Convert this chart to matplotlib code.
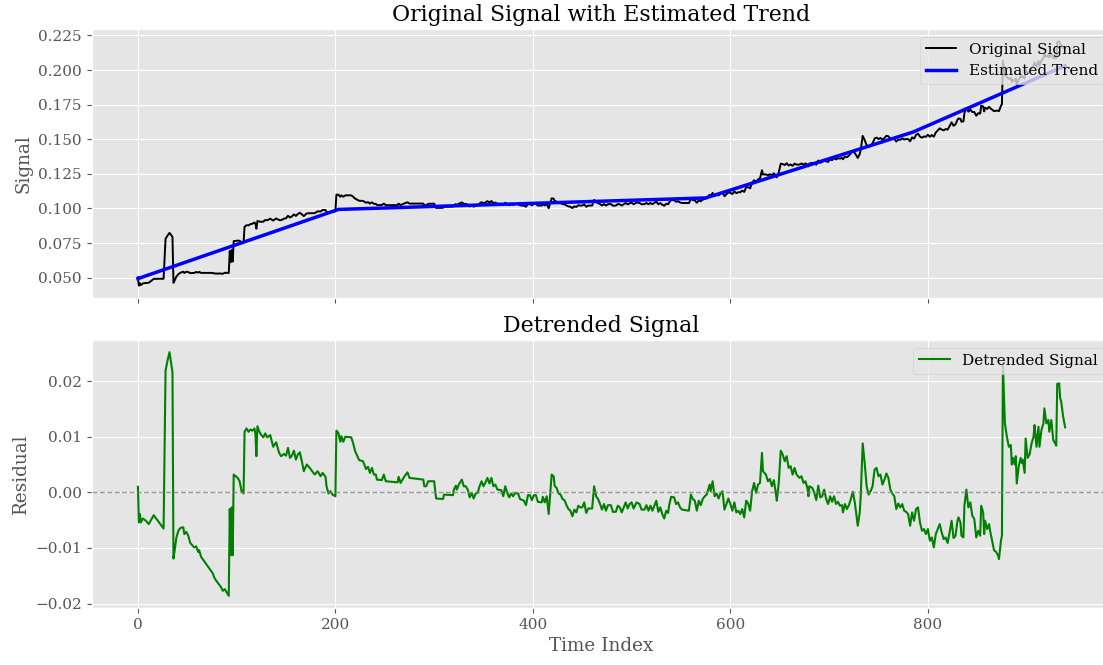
import numpy as np
import matplotlib
matplotlib.use("Agg")
import matplotlib.pyplot as plt

# Piecewise-linear trend knots (time index, level)
trend_knot_idx = [0, 203, 575, 785, 939]
trend_knot_val = [0.0493, 0.0993, 0.1076, 0.1552, 0.2031]

# Residual (signal minus trend) samples
resid_idx = [
    0, 1, 2, 3, 5, 8, 11, 16, 26, 28, 30, 32, 33, 35, 36, 37, 39, 41, 42, 44,
    46, 47, 49, 51, 53, 57, 59, 61, 62, 64, 76, 77, 79, 84, 86, 88, 92, 93, 94, 95,
    96, 97, 101, 103, 105, 107, 108, 110, 112, 114, 116, 118, 119, 120, 121, 123, 125, 127,
    129, 131, 134, 137, 140, 143, 145, 148, 150, 152, 154, 156, 158, 160, 162, 164, 166, 168,
    171, 174, 179, 182, 185, 187, 190, 191, 193, 195, 197, 200, 201, 203, 205, 206, 208, 210,
    216, 218, 220, 224, 228, 231, 233, 235, 237, 239, 241, 242, 247, 249, 251, 263, 264, 266,
    268, 270, 273, 275, 289, 290, 292, 294, 300, 302, 309, 310, 319, 320, 322, 323, 325, 328,
    330, 332, 334, 336, 338, 340, 342, 344, 346, 348, 350, 352, 354, 356, 358, 360, 362, 364,
    368, 370, 372, 374, 376, 378, 380, 382, 385, 387, 391, 393, 395, 397, 399, 401,
    403, 405, 409, 410, 412, 414, 416, 419, 421, 422, 424, 426, 428, 430, 432, 434, 436, 438,
    440, 442, 444, 446, 448, 450, 452, 454, 456, 460, 462, 464, 466, 468, 470, 472, 474, 476,
    479, 481, 484, 486, 488, 490, 492, 494, 496, 498, 500, 502, 505, 508, 510, 513, 515, 517,
    519, 521, 523, 525, 527, 529, 531, 533, 535, 537,
    538, 540, 543, 545, 547, 549, 551, 558, 560, 562, 564, 566, 568, 570, 572, 574, 576, 578,
    579, 580, 582, 584, 586, 588, 590, 592, 594, 596, 598, 600, 602, 604, 606, 608, 610, 612,
    614, 616, 618, 620, 622, 624, 626, 628, 630, 632, 633, 636, 638, 640, 642, 644, 646, 647,
    649, 651, 653, 655, 657, 659, 661, 663, 665, 667, 670, 672, 674,
    676, 678, 679, 680, 683, 685, 687, 689, 691, 693, 695, 697, 699, 701, 703, 705, 707, 709,
    711, 713, 714, 716, 718, 720, 722, 724, 726, 728, 729, 731, 732, 734, 736, 738, 740, 742,
    744, 746, 748, 750, 752, 754, 756, 758, 760, 762, 764, 766, 768, 770, 772, 774, 776, 778,
    780, 782, 784, 786, 788, 790, 792, 794, 796, 798, 800, 802, 804, 806, 808, 810,
    812, 814, 816, 818, 820, 822, 824, 826, 828, 830, 831, 833, 834, 836, 837, 839, 841, 843,
    845, 847, 849, 851, 853, 854, 856, 857, 858, 860, 862, 863, 865, 867, 869, 871, 872, 874,
    875, 876, 878, 880, 882, 884, 885, 886, 888, 889, 890, 892, 894, 895, 896, 898, 899, 901,
    903, 905, 907, 908, 910, 912, 913, 915, 917, 918, 920, 922, 923, 925, 927, 929, 930, 931,
    933, 934, 935, 937, 939,
]
resid_val = [
    0.0010, -0.0054, -0.0039, -0.0054, -0.0047, -0.0051, -0.0057, -0.0041, -0.0065, 0.0219,
    0.0237, 0.0252, 0.0240, 0.0216, -0.0119, -0.0107, -0.0081, -0.0069, -0.0066, -0.0063,
    -0.0063, -0.0075, -0.0071, -0.0078, -0.0091, -0.0099, -0.0097, -0.0107, -0.0104, -0.0116,
    -0.0146, -0.0152, -0.0158, -0.0170, -0.0177, -0.0174, -0.0186, -0.0030, -0.0113, -0.0027,
    -0.0113, 0.0032, 0.0026, 0.0020, 0.0002, -0.0002, 0.0109, 0.0115, 0.0109, 0.0113,
    0.0111, 0.0115, 0.0105, 0.0065, 0.0119, 0.0109, 0.0103, 0.0099,
    0.0106, 0.0099, 0.0103, 0.0082, 0.0090, 0.0071, 0.0065, 0.0069, 0.0066, 0.0080,
    0.0062, 0.0066, 0.0075, 0.0059, 0.0068, 0.0072, 0.0056, 0.0038,
    0.0050, 0.0044, 0.0032, 0.0038, 0.0029, 0.0035, 0.0028, 0.0011, -0.0002, 0.0002,
    -0.0004, -0.0007, 0.0111, 0.0107, 0.0091, 0.0101, 0.0091, 0.0100,
    0.0099, 0.0088, 0.0074, 0.0058, 0.0056, 0.0042, 0.0046, 0.0035, 0.0044, 0.0032,
    0.0032, 0.0023, 0.0022, 0.0032, 0.0020, 0.0018, 0.0028, 0.0017,
    0.0023, 0.0029, 0.0036, 0.0026, 0.0023, 0.0011, 0.0011, 0.0020, 0.0020, -0.0011,
    -0.0012, -0.0004, -0.0005, 0.0005, 0.0012, 0.0005, 0.0014, 0.0023,
    0.0011, 0.0011, 0.0005, -0.0009, -0.0001, -0.0011, -0.0002, -0.0001, 0.0011, 0.0020,
    0.0011, 0.0018, 0.0026, 0.0016, 0.0026, 0.0011, 0.0014, 0.0005,
    0.0004, -0.0007, 0.0011, -0.0001, -0.0009, -0.0002, -0.0007, -0.0001, -0.0002, -0.0012,
    -0.0015, -0.0023, -0.0005, -0.0005, -0.0014, -0.0005,
    -0.0005, -0.0017, -0.0018, -0.0008, -0.0018, -0.0007, -0.0039, 0.0032, 0.0029, 0.0012,
    0.0008, -0.0002, -0.0004, -0.0012, -0.0014, -0.0023, -0.0030, -0.0033,
    -0.0043, -0.0031, -0.0036, -0.0024, -0.0027, -0.0027, -0.0018, -0.0037, -0.0029, -0.0029,
    0.0011, -0.0007, -0.0012, -0.0021, -0.0031, -0.0021, -0.0033, -0.0023,
    -0.0023, -0.0035, -0.0035, -0.0024, -0.0027, -0.0036, -0.0027, -0.0018, -0.0029, -0.0021,
    -0.0018, -0.0029, -0.0018, -0.0021, -0.0031, -0.0031, -0.0023, -0.0033,
    -0.0024, -0.0033, -0.0024, -0.0015, -0.0035, -0.0027, -0.0039, -0.0047, -0.0033, -0.0037,
    -0.0023, -0.0008, -0.0009, -0.0021, -0.0018, -0.0027, -0.0031, -0.0033, -0.0004, -0.0012,
    -0.0015, -0.0033, -0.0015, -0.0023, -0.0012, -0.0007, -0.0004, 0.0008,
    0.0014, 0.0002, 0.0020, -0.0007, -0.0002, -0.0011, -0.0002, 0.0002, -0.0031, -0.0021,
    -0.0011, -0.0021, -0.0033, -0.0018, -0.0036, -0.0033, -0.0039, -0.0030,
    -0.0045, -0.0015, -0.0020, -0.0033, 0.0002, 0.0017, -0.0001, 0.0014, 0.0017, 0.0071,
    0.0038, 0.0032, 0.0020, 0.0024, 0.0011, 0.0022, -0.0001, -0.0015,
    0.0017, 0.0075, 0.0068, 0.0056, 0.0065, 0.0044, 0.0047, 0.0032, 0.0044, 0.0032,
    0.0026, 0.0029, 0.0017,
    0.0020, 0.0008, -0.0007, 0.0011, 0.0008, -0.0001, -0.0014, 0.0012, -0.0009, -0.0007,
    0.0005, -0.0012, -0.0021, -0.0007, -0.0017, -0.0007, -0.0021, -0.0017,
    -0.0024, -0.0023, -0.0036, -0.0021, -0.0030, -0.0023, -0.0012, 0.0001, -0.0018, -0.0045,
    -0.0060, -0.0036, -0.0007, 0.0088, 0.0053, 0.0011, -0.0004, 0.0002,
    0.0011, 0.0041, 0.0044, 0.0029, 0.0032, 0.0014, 0.0023, 0.0034, 0.0026, 0.0005,
    -0.0002, -0.0007, -0.0030, -0.0020, -0.0027, -0.0021, -0.0033, -0.0035,
    -0.0039, -0.0060, -0.0036, -0.0051, -0.0030, -0.0027, -0.0054, -0.0069, -0.0066, -0.0075,
    -0.0066, -0.0087, -0.0081, -0.0099, -0.0075, -0.0066,
    -0.0057, -0.0072, -0.0084, -0.0081, -0.0091, -0.0072, -0.0051, -0.0082, -0.0078, -0.0051,
    -0.0045, -0.0054, -0.0078, -0.0081, -0.0024, 0.0005, -0.0027, -0.0018,
    -0.0042, -0.0048, -0.0081, -0.0069, -0.0078, -0.0024, -0.0036, -0.0075, -0.0051, -0.0066,
    -0.0057, -0.0069, -0.0087, -0.0104, -0.0107, -0.0113, -0.0120, -0.0087,
    -0.0078, 0.0231, 0.0124, 0.0100, 0.0082, 0.0085, 0.0050, 0.0062, 0.0050, 0.0065,
    0.0016, 0.0047, 0.0062, 0.0053, 0.0059, 0.0035, 0.0097, 0.0062,
    0.0068, 0.0088, 0.0100, 0.0121, 0.0082, 0.0118, 0.0082, 0.0112, 0.0124, 0.0151,
    0.0124, 0.0130, 0.0109, 0.0130, 0.0094, 0.0088, 0.0084, 0.0195,
    0.0196, 0.0169, 0.0163, 0.0136, 0.0117,
]

t = np.array(resid_idx, dtype=float)
residual = np.array(resid_val)
trend_at_t = np.interp(t, trend_knot_idx, trend_knot_val)
signal = trend_at_t + residual

plt.style.use("ggplot")
plt.rcParams["font.family"] = ["DejaVu Serif"]
plt.rcParams["font.size"] = 11

fig = plt.figure(figsize=(11.03, 6.65), dpi=100)
ax1 = fig.add_axes([0.0830, 0.5519, 0.9247, 0.4045])
ax2 = fig.add_axes([0.0830, 0.0857, 0.9247, 0.4030], sharex=ax1)

ax1.plot(t, signal, color="black", linewidth=1.4, label="Original Signal")
ax1.plot(trend_knot_idx, trend_knot_val, color="blue", linewidth=2.5,
         label="Estimated Trend")
ax1.set_title("Original Signal with Estimated Trend")
ax1.set_ylabel("Signal")
ax1.legend(loc="upper right")
plt.setp(ax1.get_xticklabels(), visible=False)

ax2.plot(t, residual, color="green", linewidth=1.5, label="Detrended Signal")
ax2.axhline(0, color="gray", linestyle="--", linewidth=1, alpha=0.8)
ax2.set_title("Detrended Signal")
ax2.set_ylabel("Residual")
ax2.set_xlabel("Time Index")
ax2.legend(loc="upper right")

fig.savefig("out.png", dpi=100)
